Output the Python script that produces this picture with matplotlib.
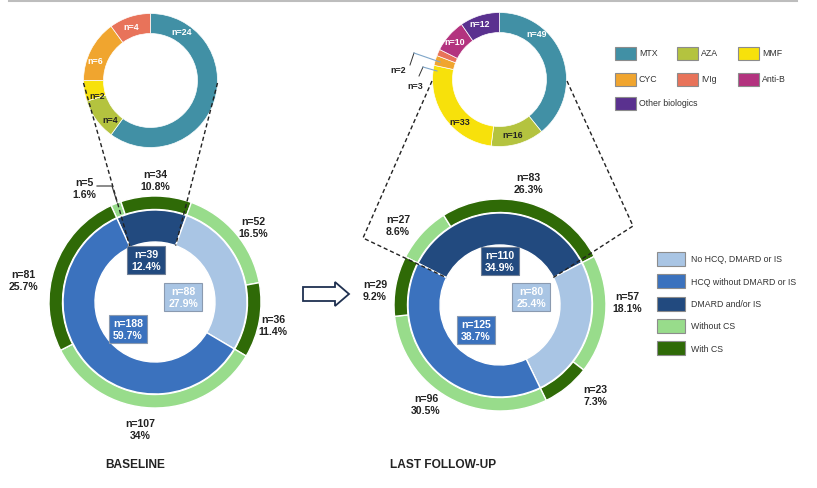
import numpy as np
import matplotlib
matplotlib.use("Agg")
import matplotlib.pyplot as plt
from matplotlib.patches import Rectangle, FancyArrow

W, H = 817, 489
plt.rcParams["font.family"] = ["Liberation Sans", "DejaVu Sans"]

# ---- data ----
drug_names = ["MTX", "AZA", "MMF", "CYC", "IVIg", "Anti-B", "Other biologics"]
drug_colors = ["#4190a5", "#b4c33f", "#f7e10b", "#f0a52f", "#e8735a", "#b3337f", "#5a318f"]

base_drugs = [24, 4, 2, 6, 4]            # MTX, AZA, MMF, CYC, IVIg
last_drugs = [49, 16, 33, 3, 2, 10, 12]  # MTX, AZA, MMF, CYC, IVIg, Anti-B, Other

group_names = ["No HCQ, DMARD or IS", "HCQ without DMARD or IS", "DMARD and/or IS",
               "Without CS", "With CS"]
group_colors = ["#a9c5e4", "#3b72be", "#224a7f", "#98dc8b", "#2f6a07"]

# inner ring, clockwise from the DMARD segment
base_inner = [39, 88, 188]
base_inner_pct = ["12.4%", "27.9%", "59.7%"]
last_inner = [110, 80, 125]
last_inner_pct = ["34.9%", "25.4%", "38.7%"]
inner_cols = [group_colors[2], group_colors[0], group_colors[1]]

# outer ring: without / with CS inside each inner segment
base_outer = [5, 34, 52, 36, 107, 81]
base_outer_pct = ["1.6%", "10.8%", "16.5%", "11.4%", "34%", "25.7%"]
last_outer = [27, 83, 57, 23, 96, 29]
last_outer_pct = ["8.6%", "26.3%", "18.1%", "7.3%", "30.5%", "9.2%"]
outer_cols = [group_colors[3], group_colors[4]] * 3


def Y(py):
    return H - py


fig = plt.figure(figsize=(W / 100, H / 100), dpi=100)
ax = fig.add_axes([0, 0, 1, 1])

# top rule
ax.plot([9, 797], [Y(1.5), Y(1.5)], color="#bdbdbd", lw=1.5)


def big_donut(cx, cy, start, inner, outer):
    wp = dict(edgecolor="white", linewidth=1)
    ax.pie(outer, colors=outer_cols, radius=106, center=(cx, Y(cy)), startangle=start,
           counterclock=False, wedgeprops=dict(width=13.5, **wp))
    ax.pie(inner, colors=inner_cols, radius=92, center=(cx, Y(cy)), startangle=start,
           counterclock=False, wedgeprops=dict(width=32, **wp))


def small_donut(cx, cy, vals):
    ax.pie(vals, colors=drug_colors[:len(vals)], radius=67, center=(cx, Y(cy)), startangle=90,
           counterclock=False, wedgeprops=dict(width=20, edgecolor="white", linewidth=0.5))


def hole_point(cx, cy, ang):
    a = np.radians(ang)
    return cx + 60 * np.cos(a), Y(cy) + 60 * np.sin(a)


# baseline
bcx, bcy, bstart = 155, 303, 114.5
big_donut(bcx, bcy, bstart, base_inner, base_outer)
small_donut(150.5, 81.5, base_drugs)

# follow-up
lcx, lcy, lstart = 500, 306, 153
big_donut(lcx, lcy, lstart, last_inner, last_outer)
small_donut(499.5, 80.5, last_drugs)

dash = dict(color="#222222", lw=1, ls=(0, (3, 2)))
# baseline zoom lines
a1 = bstart
a2 = bstart - base_inner[0] / sum(base_inner) * 360
p1 = hole_point(bcx, bcy, a1)
p2 = hole_point(bcx, bcy, a2)
ax.plot([83.5, p1[0]], [Y(84), p1[1]], **dash)
ax.plot([217.5, p2[0]], [Y(84), p2[1]], **dash)
# follow-up zoom lines
a1 = lstart
a2 = lstart - last_inner[0] / sum(last_inner) * 360
p1 = hole_point(lcx, lcy, a1)
p2 = hole_point(lcx, lcy, a2)
ax.plot([432, 363, p1[0]], [Y(82), Y(239), p1[1]], **dash)
ax.plot([567, 633, p2[0]], [Y(82), Y(227), p2[1]], **dash)

# ring labels
lab = dict(ha="center", va="center", fontsize=7.6, fontweight="bold", color="#222222",
           linespacing=1.2)
base_lab_pos = [(84, 189), (155, 181), (253, 228), (273, 326), (140, 430), (23, 281)]
for (x, y), n, p in zip(base_lab_pos, base_outer, base_outer_pct):
    ax.text(x, Y(y), f"n={n}\n{p}", **lab)
last_lab_pos = [(398, 226), (528, 184), (627, 303), (595, 396), (426, 405), (375, 291)]
for (x, y), n, p in zip(last_lab_pos, last_outer, last_outer_pct):
    ax.text(x, Y(y), f"n={n}\n{p}", **lab)

# leader n=5
ax.plot([97, 112, 117], [Y(187), Y(187), Y(203)], color="#333333", lw=0.8)

# inner boxes
box_edges = ["#6f7f96", "#8a9ab0", "#8a9ab0"]
base_box_pos = [(146, 261), (183, 298), (128, 330)]
for (x, y), n, p, c, e in zip(base_box_pos, base_inner, base_inner_pct, inner_cols, box_edges):
    ax.text(x, Y(y), f"n={n}\n{p}", ha="center", va="center", fontsize=7.6, fontweight="bold",
            color="white", linespacing=1.2,
            bbox=dict(boxstyle="square,pad=0.35", fc=c, ec=e, lw=0.8))
last_box_pos = [(500, 262), (531, 298), (476, 331)]
for (x, y), n, p, c, e in zip(last_box_pos, last_inner, last_inner_pct, inner_cols, box_edges):
    ax.text(x, Y(y), f"n={n}\n{p}", ha="center", va="center", fontsize=7.6, fontweight="bold",
            color="white", linespacing=1.2,
            bbox=dict(boxstyle="square,pad=0.35", fc=c, ec=e, lw=0.8))

# small donut labels
sm = dict(ha="center", va="center", fontsize=6.4, fontweight="bold")
base_sm_pos = [(182, 33), (110, 121), (97, 97), (95, 62), (131, 28)]
base_sm_col = ["white", "#222222", "#222222", "white", "white"]
for (x, y), n, c in zip(base_sm_pos, base_drugs, base_sm_col):
    ax.text(x, Y(y), f"n={n}", color=c, **sm)
last_sm_pos = [(537, 35), (513, 136), (460, 123), (415, 87), (398, 71), (455, 43), (480, 25)]
last_sm_col = ["white", "#222222", "#222222", "#222222", "#222222", "white", "white"]
for (x, y), n, c in zip(last_sm_pos, last_drugs, last_sm_col):
    ax.text(x, Y(y), f"n={n}", color=c, **sm)
# leaders n=2 / n=3
ax.plot([410, 414], [Y(66), Y(54)], color="#333333", lw=0.7)
ax.plot([414, 440], [Y(54), Y(63)], color="#7fa6c9", lw=0.8)
ax.plot([419, 423], [Y(77), Y(68)], color="#333333", lw=0.7)
ax.plot([423, 437], [Y(68), Y(72)], color="#7fa6c9", lw=0.8)

# arrow
ax.add_patch(FancyArrow(303, Y(295), 46, 0, width=14, head_width=24, head_length=14,
                        length_includes_head=True, fc="white", ec="#1f3050", lw=1.3))

# drug legend
drug_leg_pos = [(615, 54), (677, 54), (738, 54), (615, 80), (677, 80), (738, 80), (615, 104)]
for (x, y), name, c in zip(drug_leg_pos, drug_names, drug_colors):
    ax.add_patch(Rectangle((x, Y(y) - 6.5), 21, 13, fc=c, ec="#8c8c8c", lw=0.8))
    ax.text(x + 24, Y(y), name, ha="left", va="center", fontsize=6.3, color="#333333")

# group legend
for i, (name, c) in enumerate(zip(group_names, group_colors)):
    y = 260 + i * 22.3
    ax.add_patch(Rectangle((657, Y(y) - 7), 28, 14, fc=c, ec="#8c8c8c", lw=0.8))
    ax.text(691, Y(y), name, ha="left", va="center", fontsize=6.3, color="#333333")

# titles
ax.text(135, Y(465), "BASELINE", ha="center", va="center", fontsize=8.6, fontweight="bold",
        color="#222222")
ax.text(443, Y(465), "LAST FOLLOW-UP", ha="center", va="center", fontsize=8.6,
        fontweight="bold", color="#222222")

ax.set_xlim(0, W)
ax.set_ylim(0, H)
ax.set_aspect("equal")
ax.axis("off")

plt.savefig("out.png", dpi=100)
